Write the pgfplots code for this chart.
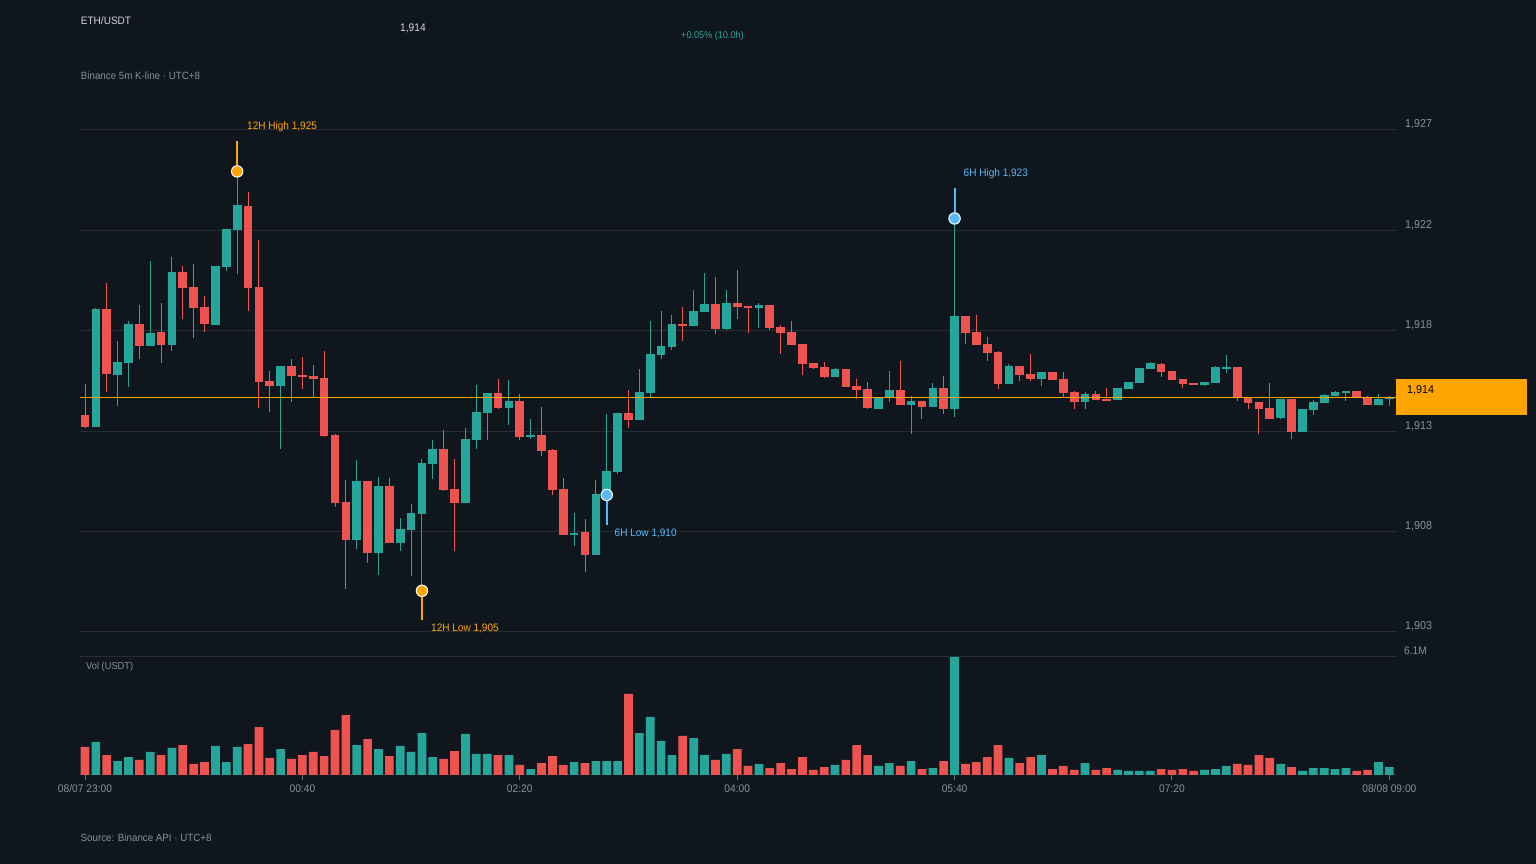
\documentclass[border=0pt]{standalone}
\usepackage{pgfplots}
\usepackage{pgfplotstable}
\pgfplotsset{compat=1.18}
\usepackage{fontspec}
\setmainfont{Liberation Sans}[FakeStretch=0.93]
\definecolor{bg}{HTML}{10161E}
\definecolor{gridc}{HTML}{272C35}
\definecolor{txtl}{HTML}{D1D4DC}
\definecolor{txtg}{HTML}{8A9099}
\definecolor{tickc}{HTML}{6A707A}
\definecolor{upc}{HTML}{26A69A}
\definecolor{dnc}{HTML}{EF5350}
\definecolor{orc}{HTML}{FFA500}
\definecolor{blc}{HTML}{5AB9F5}
\newcommand\fs[1]{\fontsize{#1}{#1}\selectfont}

% up candles: index open high low close volume(M USDT)
\pgfplotstableread{
i o h l c v
1 1913.01 1918.68 1913.01 1918.64 1.71
3 1915.48 1917.10 1913.99 1916.10 0.72
4 1916.07 1918.06 1914.92 1917.92 0.93
6 1916.88 1920.93 1916.88 1917.49 1.19
8 1916.93 1921.12 1916.64 1920.41 1.40
12 1917.89 1920.69 1917.89 1920.69 1.50
13 1920.66 1922.46 1920.47 1922.46 0.67
14 1922.42 1925.22 1920.33 1923.61 1.45
18 1914.97 1915.91 1911.95 1915.91 1.34
25 1907.60 1911.41 1907.17 1910.41 1.55
27 1906.98 1910.60 1905.92 1910.17 1.34
29 1907.46 1908.64 1907.07 1908.11 1.50
30 1908.08 1909.31 1905.88 1908.87 1.19
31 1908.84 1911.46 1905.17 1911.27 2.17
32 1911.24 1912.37 1910.52 1911.94 0.93
35 1909.37 1912.94 1909.37 1912.42 2.12
36 1912.38 1915.00 1911.95 1913.71 1.09
37 1913.68 1914.62 1912.38 1914.62 1.09
39 1913.91 1915.24 1913.10 1914.23 1.03
41 1912.53 1913.37 1912.43 1912.61 0.31
45 1907.84 1908.87 1907.31 1907.95 0.67
47 1906.88 1910.45 1906.88 1909.78 0.72
48 1909.78 1913.61 1909.75 1910.88 0.72
49 1910.85 1913.66 1910.76 1913.66 0.72
51 1913.34 1915.77 1913.34 1914.66 2.17
52 1914.62 1918.06 1914.43 1916.48 3.00
53 1916.45 1918.54 1916.26 1916.87 1.76
54 1916.83 1918.35 1916.69 1917.92 1.03
56 1917.84 1919.54 1917.84 1918.54 1.91
57 1918.51 1920.36 1918.51 1918.89 1.03
59 1917.69 1919.54 1917.65 1918.92 1.09
62 1918.70 1918.92 1917.74 1918.83 0.57
69 1915.40 1915.81 1915.40 1915.76 0.52
73 1913.87 1914.39 1913.87 1914.39 0.47
74 1914.39 1915.67 1914.20 1914.76 0.62
76 1914.06 1914.47 1912.67 1914.23 0.72
78 1913.96 1915.10 1913.96 1914.86 0.36
80 1913.87 1922.97 1913.48 1918.30 6.10
85 1915.06 1916.00 1915.06 1915.91 0.88
88 1915.30 1915.62 1914.97 1915.62 1.03
92 1914.20 1914.66 1913.87 1914.57 0.62
95 1914.30 1914.86 1914.30 1914.86 0.26
96 1914.82 1915.14 1914.82 1915.14 0.21
97 1915.11 1915.81 1915.11 1915.81 0.21
98 1915.78 1916.10 1915.78 1916.05 0.21
103 1915.01 1915.14 1914.97 1915.14 0.26
104 1915.11 1915.91 1915.11 1915.86 0.31
105 1915.78 1916.43 1915.59 1915.86 0.47
110 1913.44 1914.33 1913.39 1914.33 0.57
112 1912.77 1913.85 1912.77 1913.85 0.21
113 1913.82 1914.28 1913.58 1914.19 0.36
114 1914.15 1914.57 1914.15 1914.52 0.36
115 1914.49 1914.71 1914.49 1914.66 0.31
116 1914.63 1914.71 1914.25 1914.71 0.36
119 1914.06 1914.57 1914.06 1914.33 0.67
120 1914.36 1914.47 1914.01 1914.43 0.41
}\tabup

% down candles
\pgfplotstableread{
i o h l c v
0 1913.56 1915.08 1912.96 1913.01 1.45
2 1918.64 1919.88 1914.68 1915.54 1.03
5 1917.92 1918.83 1916.26 1916.88 0.78
7 1917.54 1918.92 1916.07 1916.93 1.03
9 1920.41 1920.69 1918.17 1919.66 1.55
10 1919.69 1920.79 1917.26 1918.70 0.57
11 1918.73 1919.26 1917.55 1917.93 0.67
15 1923.56 1924.23 1918.56 1919.66 1.60
16 1919.69 1921.94 1913.91 1915.16 2.48
17 1915.19 1915.67 1913.72 1914.97 0.88
19 1915.91 1916.24 1914.20 1915.45 0.83
20 1915.48 1916.34 1914.82 1915.40 1.03
21 1915.43 1915.96 1914.41 1915.30 1.19
22 1915.33 1916.63 1912.54 1912.57 0.98
23 1912.61 1912.65 1909.18 1909.37 2.33
24 1909.40 1910.45 1905.25 1907.60 3.10
26 1910.41 1910.41 1906.50 1906.98 1.86
28 1910.17 1910.55 1907.46 1907.46 0.98
33 1911.94 1912.85 1909.94 1909.99 0.83
34 1910.02 1911.46 1907.07 1909.37 1.24
38 1914.62 1915.29 1913.87 1913.91 1.03
40 1914.23 1914.57 1912.38 1912.53 0.52
42 1912.61 1913.95 1911.62 1911.86 0.62
43 1911.89 1911.94 1909.75 1909.99 0.98
44 1910.02 1910.55 1907.84 1907.84 0.52
46 1907.98 1908.60 1906.07 1906.88 0.62
50 1913.66 1914.76 1912.96 1913.34 4.19
55 1917.92 1918.73 1917.12 1917.84 2.02
58 1918.89 1920.17 1917.46 1917.69 0.78
60 1918.92 1920.50 1918.17 1918.75 1.34
61 1918.78 1918.78 1917.50 1918.70 0.47
63 1918.83 1918.83 1917.65 1917.74 0.36
64 1917.77 1917.87 1916.50 1917.50 0.62
65 1917.54 1918.06 1916.93 1916.93 0.31
66 1916.96 1916.96 1915.49 1916.02 0.93
67 1916.05 1916.05 1915.78 1915.83 0.26
68 1915.86 1916.10 1915.35 1915.40 0.41
70 1915.76 1915.76 1914.92 1914.92 0.78
71 1914.95 1915.29 1914.35 1914.78 1.55
72 1914.81 1915.14 1913.87 1913.91 1.03
75 1914.76 1916.15 1914.06 1914.06 0.47
77 1914.23 1914.23 1913.39 1913.96 0.31
79 1914.86 1915.43 1913.63 1913.87 0.72
81 1918.30 1918.30 1916.98 1917.50 0.57
82 1917.54 1918.35 1916.93 1916.93 0.67
83 1916.96 1917.30 1916.16 1916.55 0.93
84 1916.58 1916.63 1914.82 1915.06 1.55
86 1915.91 1915.91 1915.21 1915.49 0.62
87 1915.53 1916.48 1915.21 1915.30 0.93
89 1915.62 1915.62 1915.25 1915.25 0.31
90 1915.29 1915.62 1914.44 1914.63 0.47
91 1914.66 1914.71 1913.87 1914.20 0.26
93 1914.57 1914.71 1914.30 1914.30 0.26
94 1914.35 1914.86 1914.25 1914.25 0.36
99 1916.00 1916.05 1915.40 1915.64 0.31
100 1915.67 1915.67 1915.25 1915.25 0.26
101 1915.29 1915.29 1914.87 1915.06 0.31
102 1915.09 1915.09 1915.01 1915.01 0.21
106 1915.86 1915.86 1914.25 1914.43 0.57
107 1914.43 1914.43 1913.87 1914.15 0.52
108 1914.19 1914.19 1912.67 1913.87 1.03
109 1913.90 1915.10 1913.39 1913.39 0.88
111 1914.33 1914.33 1912.43 1912.77 0.41
117 1914.71 1914.71 1914.43 1914.43 0.21
118 1914.43 1914.47 1914.06 1914.06 0.26
}\tabdn

\begin{document}
\begin{tikzpicture}
\fill[bg] (0,0) rectangle (1536bp,864bp);

% header texts
\node[anchor=west, inner sep=0pt, text=txtl, font=\fs{10.8bp}] at (80.7bp,843.3bp) {ETH/USDT};
\node[anchor=west, inner sep=0pt, text=txtl, font=\fs{11bp}] at (400bp,835.7bp) {1,914};
\node[anchor=west, inner sep=0pt, text=upc, font=\fs{9.8bp}] at (681bp,828bp) {+0.05\% (10.0h)};
\node[anchor=west, inner sep=0pt, text=txtg, font=\fs{10.5bp}] at (80.7bp,788bp) {Binance 5m K-line · UTC+8};
\node[anchor=west, inner sep=0pt, text=txtg, font=\fs{10.5bp}] at (80.5bp,26bp) {Source: Binance API · UTC+8};

% price panel
\begin{axis}[
  at={(80bp,232bp)}, anchor=south west, scale only axis,
  width=1316bp, height=502bp,
  xmin=-0.46, xmax=120.61, ymin=1903.2, ymax=1927.2,
  axis line style={draw=none},
  xtick=\empty,
  ytick={1903.2,1908,1912.8,1917.6,1922.4,1927.2},
  yticklabels={{1,903},{1,908},{1,913},{1,918},{1,922},{1,927}},
  yticklabel pos=right,
  yticklabel style={font=\fs{11.5bp}, text=txtg, anchor=base west, inner sep=0pt, xshift=9bp, yshift=2bp},
  ytick style={draw=none},
  ymajorgrids, major grid style={draw=gridc, line width=1bp},
  clip=false,
]
% wicks
\addplot[draw=none, mark=none, forget plot, error bars/.cd, y dir=plus, y explicit, error mark=none,
  error bar style={draw=upc, line width=1bp}]
  table[x=i, y=l, y error expr=\thisrow{h}-\thisrow{l}] {\tabup};
\addplot[draw=none, mark=none, forget plot, error bars/.cd, y dir=plus, y explicit, error mark=none,
  error bar style={draw=dnc, line width=1bp}]
  table[x=i, y=l, y error expr=\thisrow{h}-\thisrow{l}] {\tabdn};
% bodies
\addplot[draw=none, mark=none, forget plot, error bars/.cd, y dir=plus, y explicit, error mark=none,
  error bar style={draw=upc, line width=8.7bp}]
  table[x=i, y=o, y error expr={max(\thisrow{c}-\thisrow{o},0.08)}] {\tabup};
\addplot[draw=none, mark=none, forget plot, error bars/.cd, y dir=plus, y explicit, error mark=none,
  error bar style={draw=dnc, line width=8.7bp}]
  table[x=i, y=c, y error expr={max(\thisrow{o}-\thisrow{c},0.08)}] {\tabdn};
% last price line
\addplot[orc, line width=1bp, forget plot] coordinates {(-0.46,1914.43) (120.61,1914.43)};
% high/low pins
\addplot[orc, line width=2bp, forget plot] coordinates {(14,1925.22) (14,1926.67)};
\addplot[orc, line width=2bp, forget plot] coordinates {(31,1905.17) (31,1903.77)};
\addplot[blc, line width=2bp, forget plot] coordinates {(80,1922.97) (80,1924.43)};
\addplot[blc, line width=2bp, forget plot] coordinates {(48,1909.75) (48,1908.33)};
\addplot[only marks, mark=*, mark size=5.7bp, mark options={fill=orc, draw=white, line width=1bp}, forget plot]
  coordinates {(14,1925.22) (31,1905.17)};
\addplot[only marks, mark=*, mark size=5.7bp, mark options={fill=blc, draw=white, line width=1bp}, forget plot]
  coordinates {(80,1922.97) (48,1909.75)};
% last price tag
\fill[orc] (axis cs:120.61,1914.43) ++(0bp,-18.3bp) rectangle ++(131bp,36.7bp);
\node[anchor=west, inner sep=0pt, text=black, font=\fs{11.5bp}, xshift=11bp, yshift=6.5bp] at (axis cs:120.61,1914.43) {1,914};
\end{axis}

% pin labels
\node[anchor=west, inner sep=0pt, text=orc, font=\fs{10.8bp}] at (247bp,737.5bp) {12H High 1,925};
\node[anchor=west, inner sep=0pt, text=orc, font=\fs{10.8bp}] at (431bp,236bp) {12H Low 1,905};
\node[anchor=west, inner sep=0pt, text=blc, font=\fs{10.8bp}] at (963.5bp,690.5bp) {6H High 1,923};
\node[anchor=west, inner sep=0pt, text=blc, font=\fs{10.8bp}] at (614.5bp,331bp) {6H Low 1,910};

% volume panel
\begin{axis}[
  at={(80bp,89bp)}, anchor=south west, scale only axis,
  width=1316bp, height=118bp,
  xmin=-0.46, xmax=120.61, ymin=0, ymax=6.1,
  axis line style={draw=none},
  xtick={0,20,40,60,80,100,120},
  xticklabels={08/07 23:00,00:40,02:20,04:00,05:40,07:20,08/08 09:00},
  xtick pos=left, tick align=outside, major tick length=5bp,
  xtick style={draw=tickc, line width=1bp},
  xticklabel style={font=\fs{11bp}, text=txtg, anchor=center, yshift=-9bp},
  ytick={0,6.1}, yticklabels={{},6.1M},
  yticklabel pos=right,
  yticklabel style={font=\fs{11bp}, text=txtg, anchor=base west, inner sep=0pt, xshift=3bp, yshift=2bp},
  ytick style={draw=none},
  ymajorgrids, major grid style={draw=gridc, line width=1bp},
  clip=false,
]
\addplot[ybar, bar width=8.7bp, bar shift=0pt, fill=upc, draw=none, forget plot] table[x=i, y=v] {\tabup};
\addplot[ybar, bar width=8.7bp, bar shift=0pt, fill=dnc, draw=none, forget plot] table[x=i, y=v] {\tabdn};
\end{axis}
\node[anchor=west, inner sep=0pt, text=txtg, font=\fs{10bp}] at (86bp,197bp) {Vol (USDT)};

\pgfresetboundingbox
\path[use as bounding box] (0,0) rectangle (1536bp,864bp);
\end{tikzpicture}
\end{document}
